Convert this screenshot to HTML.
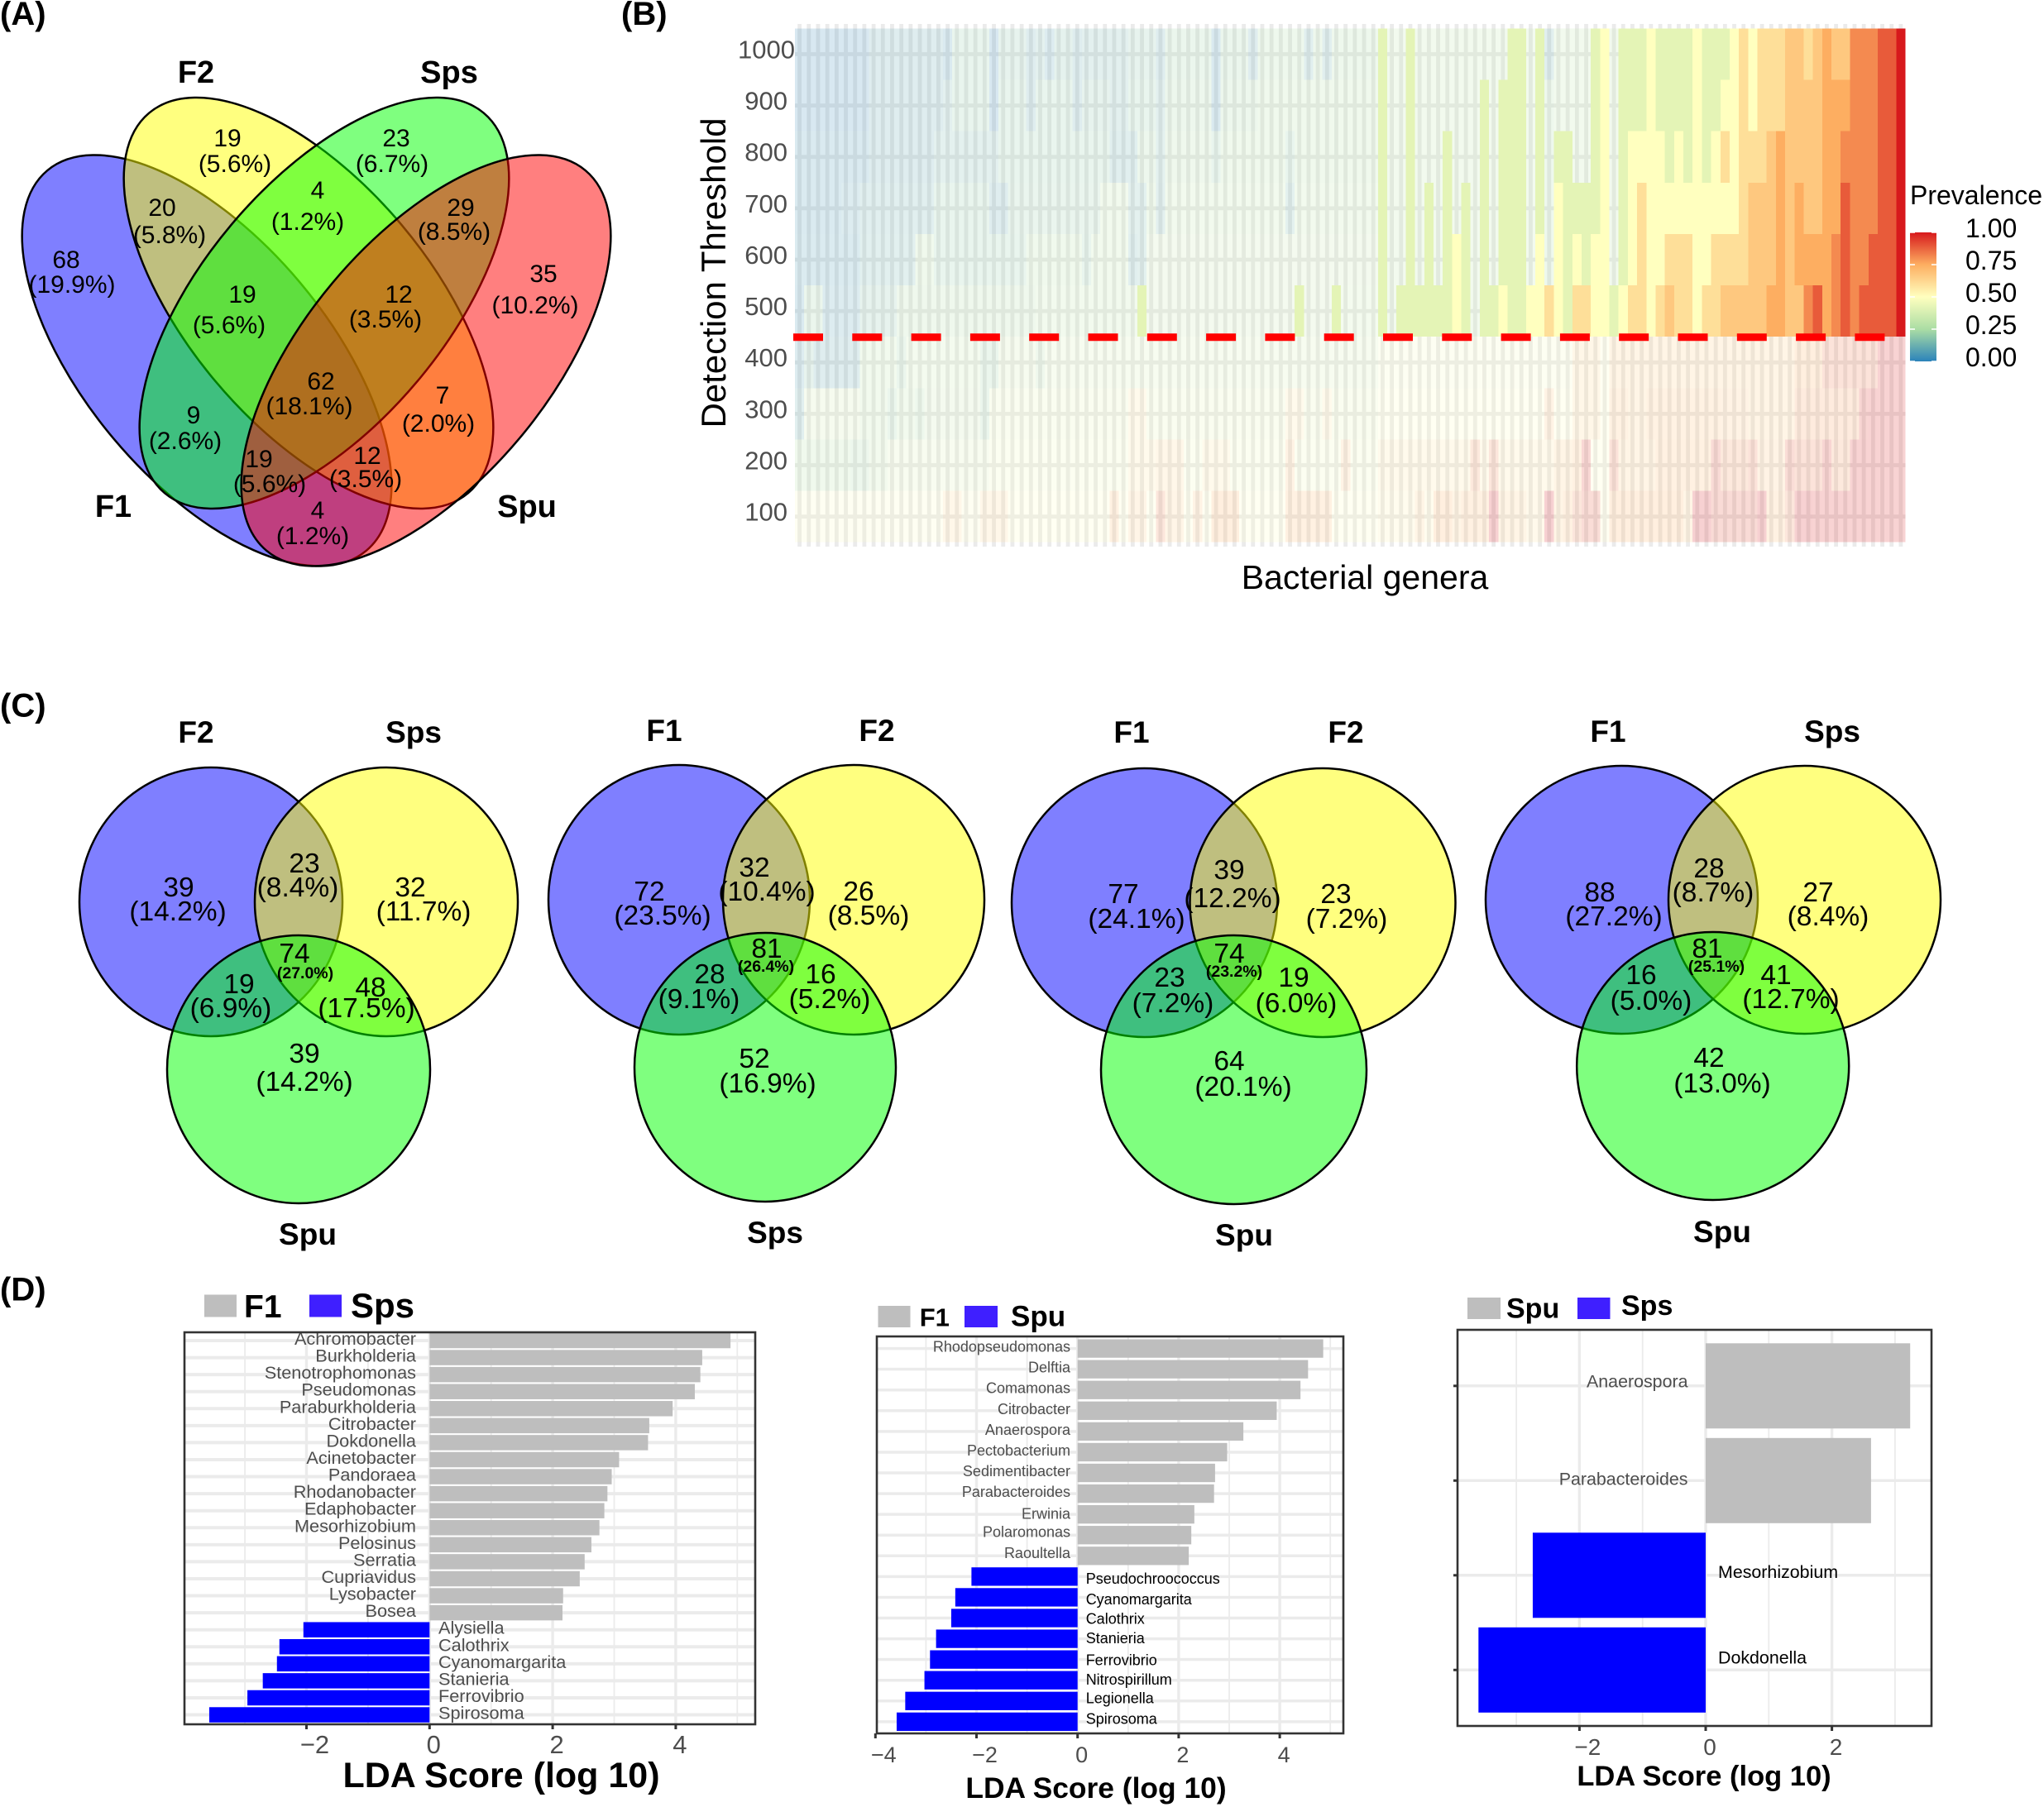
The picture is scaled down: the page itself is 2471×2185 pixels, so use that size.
<!DOCTYPE html>
<html lang="en">
<head>
<meta charset="utf-8">
<title>Microbiome prevalence, Venn and LDA panels</title>
<style>
html,body{margin:0;padding:0;background:#fff;width:2471px;height:2185px;overflow:hidden}
svg{display:block}
text{font-family:"Liberation Sans",Arial,sans-serif;fill:#000}
.m{text-anchor:middle}
.a{font-size:30px}
.c{font-size:33.5px}
.s{font-size:19.5px;font-weight:bold}
.ta{font-size:38px;font-weight:bold}
.tc{font-size:37px;font-weight:bold}
.p{font-size:40px;font-weight:bold}
.v{stroke:#000;stroke-width:2.5;fill-opacity:.5}
</style>
</head>
<body>
<svg id="chart" xmlns="http://www.w3.org/2000/svg" width="2471" height="2185" viewBox="0 0 2471 2185">
<defs>
<linearGradient id="spectral" x1="0" y1="1" x2="0" y2="0">
<stop offset="0" stop-color="#2b83ba"/><stop offset=".25" stop-color="#abdda4"/><stop offset=".5" stop-color="#ffffbf"/><stop offset=".75" stop-color="#fdae61"/><stop offset="1" stop-color="#d7191c"/>
</linearGradient>
</defs>
<rect width="2471" height="2185" fill="#fff"/>

<text x="0" y="30" class="p">(A)</text>
<text x="751" y="30" class="p">(B)</text>
<text x="0" y="866.5" class="p">(C)</text>
<text x="0" y="1572.5" class="p">(D)</text>

<g>
<ellipse class="v" cx="250" cy="436" rx="300" ry="147" transform="rotate(50 250 436)" fill="#00f"/>
<ellipse class="v" cx="373" cy="366.5" rx="300" ry="147" transform="rotate(50 373 366.5)" fill="#ff0"/>
<ellipse class="v" cx="392" cy="366.5" rx="300" ry="147" transform="rotate(-50 392 366.5)" fill="#0f0"/>
<ellipse class="v" cx="515" cy="436" rx="300" ry="147" transform="rotate(-50 515 436)" fill="#f00"/>
<g class="a m">
<text x="80" y="324">68</text><text x="87" y="354">(19.9%)</text>
<text x="275" y="177">19</text><text x="284" y="208">(5.6%)</text>
<text x="479" y="177">23</text><text x="474" y="208">(6.7%)</text>
<text x="196" y="261">20</text><text x="205" y="294">(5.8%)</text>
<text x="384" y="240">4</text><text x="372" y="278">(1.2%)</text>
<text x="557" y="261">29</text><text x="549" y="290">(8.5%)</text>
<text x="657" y="341">35</text><text x="647" y="379">(10.2%)</text>
<text x="293" y="366">19</text><text x="277" y="403">(5.6%)</text>
<text x="482" y="366">12</text><text x="466" y="396">(3.5%)</text>
<text x="234" y="512">9</text><text x="224" y="543">(2.6%)</text>
<text x="388" y="471">62</text><text x="374" y="501">(18.1%)</text>
<text x="535" y="488">7</text><text x="530" y="522">(2.0%)</text>
<text x="313" y="565">19</text><text x="326" y="595">(5.6%)</text>
<text x="444" y="561">12</text><text x="442" y="589">(3.5%)</text>
<text x="384" y="627">4</text><text x="378" y="658">(1.2%)</text>
</g>
<g class="ta m">
<text x="237" y="100">F2</text>
<text x="543" y="100">Sps</text>
<text x="137" y="625">F1</text>
<text x="637" y="625">Spu</text>
</g>
</g>

<g id="heatmap"></g>
<text x="0" y="0" transform="translate(877 330) rotate(-90)" class="m" font-size="42">Detection Threshold</text>
<text x="1650" y="712" class="m" font-size="41">Bacterial genera</text>
<g>
<text x="2309" y="247" font-size="32">Prevalence</text>
<rect x="2309" y="281" width="32" height="156" fill="url(#spectral)"/>
<g stroke="#fff" stroke-width="1.5">
<path d="M2309 281h6M2335 281h6M2309 320h6M2335 320h6M2309 359h6M2335 359h6M2309 398h6M2335 398h6M2309 437h6M2335 437h6" fill="none"/>
</g>
<g font-size="32">
<text x="2376" y="287">1.00</text>
<text x="2376" y="326">0.75</text>
<text x="2376" y="365">0.50</text>
<text x="2376" y="404">0.25</text>
<text x="2376" y="443">0.00</text>
</g>
</g>

<g>
<ellipse class="v" cx="255" cy="1090.5" rx="159" ry="162.5" fill="#00f"/>
<ellipse class="v" cx="467" cy="1090.5" rx="159" ry="162.5" fill="#ff0"/>
<ellipse class="v" cx="361" cy="1293" rx="159" ry="162" fill="#0f0"/>
<g class="c m">
<text x="216" y="1084">39</text><text x="215" y="1113">(14.2%)</text>
<text x="368" y="1055">23</text><text x="360" y="1084">(8.4%)</text>
<text x="496" y="1084">32</text><text x="512" y="1113">(11.7%)</text>
<text x="356" y="1164">74</text>
<text x="289" y="1201">19</text><text x="279" y="1230">(6.9%)</text>
<text x="448" y="1205">48</text><text x="443" y="1230">(17.5%)</text>
<text x="368" y="1285">39</text><text x="368" y="1319">(14.2%)</text>
</g>
<text x="369" y="1183" class="s m">(27.0%)</text>
<g class="tc m">
<text x="237" y="898">F2</text>
<text x="500" y="898">Sps</text>
<text x="372" y="1505">Spu</text>
</g>
</g>

<g>
<ellipse class="v" cx="821" cy="1088" rx="158" ry="163" fill="#00f"/>
<ellipse class="v" cx="1032" cy="1088" rx="158" ry="163" fill="#ff0"/>
<ellipse class="v" cx="925" cy="1290.5" rx="158" ry="162.5" fill="#0f0"/>
<g class="c m">
<text x="785" y="1089">72</text><text x="801" y="1118">(23.5%)</text>
<text x="912" y="1060">32</text><text x="927" y="1089">(10.4%)</text>
<text x="1038" y="1089">26</text><text x="1050" y="1118">(8.5%)</text>
<text x="927" y="1158">81</text>
<text x="858" y="1189">28</text><text x="845" y="1219">(9.1%)</text>
<text x="992" y="1189">16</text><text x="1003" y="1219">(5.2%)</text>
<text x="912" y="1291">52</text><text x="928" y="1321">(16.9%)</text>
</g>
<text x="926" y="1175" class="s m">(26.4%)</text>
<g class="tc m">
<text x="803" y="896">F1</text>
<text x="1060" y="896">F2</text>
<text x="937" y="1503">Sps</text>
</g>
</g>

<g>
<ellipse class="v" cx="1383.5" cy="1091.5" rx="160.5" ry="162.5" fill="#00f"/>
<ellipse class="v" cx="1599" cy="1091.5" rx="160.5" ry="162.5" fill="#ff0"/>
<ellipse class="v" cx="1491.5" cy="1293.5" rx="160.5" ry="162.5" fill="#0f0"/>
<g class="c m">
<text x="1358" y="1092">77</text><text x="1374" y="1122">(24.1%)</text>
<text x="1486" y="1063">39</text><text x="1490" y="1097">(12.2%)</text>
<text x="1615" y="1092">23</text><text x="1628" y="1122">(7.2%)</text>
<text x="1486" y="1164">74</text>
<text x="1414" y="1193">23</text><text x="1418" y="1224">(7.2%)</text>
<text x="1564" y="1193">19</text><text x="1567" y="1224">(6.0%)</text>
<text x="1486" y="1294">64</text><text x="1503" y="1325">(20.1%)</text>
</g>
<text x="1492" y="1181" class="s m">(23.2%)</text>
<g class="tc m">
<text x="1368" y="898">F1</text>
<text x="1627" y="898">F2</text>
<text x="1504" y="1506">Spu</text>
</g>
</g>

<g>
<ellipse class="v" cx="1960.5" cy="1088" rx="164.5" ry="162" fill="#00f"/>
<ellipse class="v" cx="2181.5" cy="1088" rx="164.5" ry="162" fill="#ff0"/>
<ellipse class="v" cx="2070.7" cy="1289" rx="164.5" ry="162" fill="#0f0"/>
<g class="c m">
<text x="1934" y="1090">88</text><text x="1951" y="1119">(27.2%)</text>
<text x="2066" y="1061">28</text><text x="2071" y="1090">(8.7%)</text>
<text x="2198" y="1090">27</text><text x="2210" y="1119">(8.4%)</text>
<text x="2064" y="1158">81</text>
<text x="1984" y="1190">16</text><text x="1996" y="1221">(5.0%)</text>
<text x="2147" y="1190">41</text><text x="2165" y="1219">(12.7%)</text>
<text x="2066" y="1290">42</text><text x="2082" y="1321">(13.0%)</text>
</g>
<text x="2075" y="1175" class="s m">(25.1%)</text>
<g class="tc m">
<text x="1944" y="897">F1</text>
<text x="2215" y="897">Sps</text>
<text x="2082" y="1502">Spu</text>
</g>
</g>

<g id="lda1"></g>
<g id="lda2"></g>
<g id="lda3"></g>
</svg>

<script>
// Heatmap data: prevalence (percent) per genus column, one array per detection threshold.
const thresholds = [1000,900,800,700,600,500,400,300,200,100];
const thresholdTicks = [1000,900,800,700,600,500,400,300,200,100];
const prev1000 = [
3,3,3,3,3,3,3,3,10,10,
10,10,10,10,10,10,5,20,20,20,
20,3,18,18,18,10,15,8,16,16,
10,14,14,14,14,14,18,18,18,10,
22,22,22,22,22,5,22,22,22,10,
25,25,25,25,25,12,25,12,25,25,
25,25,25,42,30,30,42,30,30,30,
30,30,30,30,30,30,30,42,42,30,
42,12,30,30,30,30,42,50,30,42,
42,42,50,42,42,42,42,50,42,42,
42,50,60,50,60,60,60,67,67,60,
67,75,67,67,81,81,81,89,89,100];
const prev900 = [
3,3,3,3,3,3,3,3,10,10,
10,10,10,10,10,10,14,20,20,20,
20,3,20,20,20,10,20,20,20,20,
10,18,18,18,14,14,20,20,20,14,
24,24,24,24,24,5,24,24,24,24,
28,28,28,28,28,28,28,28,28,28,
28,28,28,42,30,30,42,30,30,30,
30,30,30,30,42,30,42,42,42,30,
42,25,30,30,30,30,42,50,30,42,
42,42,50,42,42,42,42,50,42,42,
50,50,60,50,60,60,60,67,67,67,
67,75,75,75,81,81,81,89,89,100];
const prev800 = [
5,5,5,5,5,5,5,5,10,10,
10,10,10,10,10,15,15,15,15,15,
15,14,20,20,20,20,20,20,20,20,
20,20,20,20,12,12,12,24,24,15,
26,26,26,26,26,20,28,28,28,28,
28,28,28,20,28,28,28,28,28,28,
28,28,28,42,30,30,42,30,30,30,
42,30,30,30,42,30,42,42,42,30,
42,25,42,42,30,30,42,50,30,42,
50,50,50,50,42,50,42,50,42,50,
60,50,60,60,60,67,75,67,67,67,
67,75,75,81,81,81,81,89,89,100];
const prev700 = [
5,5,5,5,5,8,8,12,12,12,
12,12,12,12,12,20,20,20,20,20,
20,10,10,21,21,21,21,21,21,21,
21,21,21,31,31,31,15,15,28,14,
30,30,30,30,30,30,30,30,30,30,
30,30,30,15,31,31,31,31,31,31,
31,31,31,42,30,30,42,30,42,30,
42,30,42,30,42,30,42,42,42,30,
42,25,50,42,42,42,42,50,30,42,
50,60,50,50,50,50,50,50,50,50,
50,50,60,67,67,67,75,67,75,67,
67,75,75,89,81,81,81,89,89,100];
const prev600 = [
6,6,6,6,6,6,6,13,13,13,
13,13,13,28,28,20,20,20,20,20,
20,20,20,20,20,28,28,28,28,28,
28,20,31,31,31,31,12,15,33,33,
33,33,33,33,33,33,33,33,33,33,
33,33,33,33,33,33,33,33,33,33,
33,33,33,42,30,30,42,30,42,30,
42,50,42,30,42,30,42,42,42,30,
50,25,50,42,50,42,50,50,30,42,
50,60,50,50,60,60,60,50,50,60,
60,60,60,67,67,67,75,67,75,75,
75,75,81,89,81,81,89,89,89,100];
const prev500 = [
5,22,22,8,8,8,8,18,18,18,
18,26,26,26,26,26,26,26,26,26,
26,26,26,26,26,26,31,31,31,31,
31,31,31,31,31,31,31,42,33,33,
33,33,33,33,33,33,33,33,33,33,
33,33,33,33,42,33,33,33,42,34,
34,34,34,42,30,42,42,42,42,42,
42,50,42,30,42,42,50,42,42,50,
50,60,50,42,60,60,50,50,42,50,
60,60,50,60,67,60,60,50,60,60,
67,67,67,67,67,75,75,67,67,81,
89,75,81,89,81,89,89,89,89,100];
const prev400 = [
8,18,10,10,10,10,10,30,30,30,
30,22,34,34,34,34,34,34,34,34,
22,22,36,36,36,36,26,38,38,38,
38,38,38,38,38,38,38,38,38,38,
38,38,38,38,38,38,38,38,38,38,
38,38,38,38,38,38,38,38,38,38,
38,38,38,47,47,47,47,47,47,47,
47,47,47,47,47,47,47,47,47,47,
47,47,47,47,63,63,63,50,66,66,
66,66,66,66,66,66,66,66,66,66,
66,66,66,66,66,66,66,66,75,75,
75,85,85,85,85,85,85,98,98,98];
const prev300 = [
12,36,36,36,36,36,36,30,30,30,
22,30,30,25,33,33,33,33,33,33,
22,42,42,42,42,42,42,42,42,42,
42,42,42,42,42,42,58,58,42,42,
42,42,42,42,42,42,42,42,42,42,
42,42,42,58,58,42,42,58,42,42,
42,42,42,50,50,50,50,50,50,50,
50,50,50,50,50,50,50,50,50,50,
50,68,50,50,63,63,63,50,70,70,
66,66,70,70,70,70,70,70,70,70,
68,68,68,66,66,66,66,66,78,78,
78,78,78,78,78,97,98,98,98,98];
const prev200 = [
28,28,28,28,28,28,24,24,32,32,
40,40,40,40,40,40,40,40,40,40,
40,46,46,46,46,46,46,46,46,46,
46,46,46,46,46,46,58,58,58,62,
62,62,46,46,58,58,58,46,46,46,
46,46,46,68,46,46,46,46,46,68,
46,46,46,58,58,58,58,58,58,58,
58,58,58,80,58,82,58,58,58,58,
58,58,66,66,72,94,50,50,85,66,
66,66,66,72,72,72,72,72,72,92,
80,80,80,85,68,68,68,90,85,85,
85,97,80,80,98,98,98,98,98,98];
const prev100 = [
48,48,48,48,48,48,48,48,48,48,
48,48,48,48,48,48,62,62,48,48,
62,62,62,50,50,50,50,50,50,50,
50,50,50,50,72,50,65,65,50,82,
65,65,50,68,50,75,75,75,50,50,
50,50,50,72,72,72,72,72,50,50,
50,50,50,55,55,55,55,66,55,75,
75,66,72,72,72,100,66,66,66,60,
60,100,66,72,82,90,90,52,75,75,
75,75,75,75,75,75,66,100,100,92,
92,92,92,92,100,72,72,82,100,100,
98,98,98,98,98,98,98,98,98,98];
const prevalenceRows = [prev1000,prev900,prev800,prev700,prev600,prev500,prev400,prev300,prev200,prev100];

// LDA data
const d1Genera = ["Achromobacter","Burkholderia","Stenotrophomonas","Pseudomonas","Paraburkholderia","Citrobacter","Dokdonella","Acinetobacter","Pandoraea","Rhodanobacter","Edaphobacter","Mesorhizobium","Pelosinus","Serratia","Cupriavidus","Lysobacter","Bosea","Alysiella","Calothrix","Cyanomargarita","Stanieria","Ferrovibrio","Spirosoma"];
const d1Scores = [4.89,4.43,4.40,4.31,3.95,3.57,3.55,3.08,2.96,2.89,2.84,2.76,2.63,2.52,2.44,2.17,2.16,-2.05,-2.44,-2.48,-2.71,-2.96,-3.58];
const d1Ticks = [-2,0,2,4];
const d1Minor = [-3,-1,1,3,5];

const d2Genera = ["Rhodopseudomonas","Delftia","Comamonas","Citrobacter","Anaerospora","Pectobacterium","Sedimentibacter","Parabacteroides","Erwinia","Polaromonas","Raoultella","Pseudochroococcus","Cyanomargarita","Calothrix","Stanieria","Ferrovibrio","Nitrospirillum","Legionella","Spirosoma"];
const d2Scores = [4.86,4.56,4.41,3.94,3.28,2.96,2.72,2.70,2.31,2.25,2.20,-2.10,-2.42,-2.50,-2.80,-2.92,-3.03,-3.41,-3.58];
const d2Ticks = [-4,-2,0,2,4];
const d2Minor = [-3,-1,1,3,5];

const d3Genera = ["Anaerospora","Parabacteroides","Mesorhizobium","Dokdonella"];
const d3Scores = [3.24,2.62,-2.74,-3.60];
const d3Ticks = [-2,0,2];
const d3Minor = [-3,-1,1,3];

const NS = "http://www.w3.org/2000/svg";
function make(parent, tag, attrs, txt){
  const el = document.createElementNS(NS, tag);
  for (const k in attrs) el.setAttribute(k, attrs[k]);
  if (txt !== undefined) el.textContent = txt;
  parent.appendChild(el);
  return el;
}

// Heatmap colour scale
const paletteStops = [[43,131,186],[171,221,164],[255,255,191],[253,174,97],[215,25,28]];
function spectral(p){
  const t = Math.max(0, Math.min(1, p/100))*4;
  const i = Math.min(3, Math.floor(t));
  const f = t-i, a = paletteStops[i], b = paletteStops[i+1];
  return "rgb("+a.map((c,j)=>Math.round(c+(b[j]-c)*f)).join(",")+")";
}

(function drawHeatmap(){
  const g = document.getElementById("heatmap");
  const L = 961, R = 2303.5, T = 34.4, B = 655.7;
  const nCols = prevalenceRows[0].length, nRows = thresholds.length;
  const cw = (R-L)/nCols, rh = (B-T)/nRows;
  const xc = i => L + (i+0.5)*cw;
  const yTop = r => T + r*rh;

  const grid = make(g, "g", {stroke:"#ebebeb"});
  
  
  for (let i=0;i<nCols;i++){
    const vl = make(grid, "line", {x1:xc(i), x2:xc(i), y1:29, y2:661, "stroke-width":4.8});
    
    
  }
  for (let r=0;r<nRows;r++){
    const hl = make(grid, "line", {x1:L, x2:R, y1:yTop(r)+rh/2, y2:yTop(r)+rh/2, "stroke-width":4.8});
    
    
  }

  const tiles = make(g, "g", {"shape-rendering":"crispEdges"});
  
  
  prevalenceRows.forEach((row, r) => {
    row.forEach((v, i) => {
      const solid = thresholds[r] >= 500 && v >= 40;
      const cell = make(tiles, "rect", {x:L+i*cw, y:yTop(r), width:cw, height:rh, fill:spectral(v), "fill-opacity":solid?1:0.2});
      
      
    });
  });

  thresholdTicks.forEach((t) => {
    const r = thresholds.indexOf(t);
    const lab = make(g, "text", {x:t===1000?961:952, y:yTop(r)+rh/2+5, "text-anchor":"end", "font-size":31, style:"fill:#4d4d4d"}, String(t));
    
    
  });

  const cut = make(g, "line", {x1:959, x2:2290, y1:407.8, y2:407.8, stroke:"#f00", "stroke-width":9, "stroke-dasharray":"36 35.3"});
  
  
})();

function drawLda(id, genera, scores, ticks, minor, cfg){
  const g = document.getElementById(id);
  const x = v => cfg.x0 + v*cfg.unit;
  const y = i => cfg.first + i*cfg.step;
  const nudge = cfg.labelNudge || {};

  minor.forEach(v => {
    if (x(v) <= cfg.left || x(v) >= cfg.right) return;
    const m = make(g, "line", {x1:x(v), x2:x(v), y1:cfg.top, y2:cfg.bottom, stroke:"#ebebeb", "stroke-width":1.8});
    
    
  });
  ticks.forEach(v => {
    if (x(v) <= cfg.left || x(v) >= cfg.right) return;
    const m = make(g, "line", {x1:x(v), x2:x(v), y1:cfg.top, y2:cfg.bottom, stroke:"#ebebeb", "stroke-width":3.4});
    
    
  });
  genera.forEach((name, i) => {
    const h = make(g, "line", {x1:cfg.left, x2:cfg.right, y1:y(i), y2:y(i), stroke:"#ebebeb", "stroke-width":cfg.hgrid});
    
    
  });
  genera.forEach((name, i) => {
    const v = scores[i];
    const bar = make(g, "rect", {x:Math.min(x(0),x(v)), y:y(i)-cfg.barH/2, width:Math.abs(x(v)-x(0)), height:cfg.barH, fill:v>=0?"#bebebe":"#0000ff"});
    
    
    const lab = make(g, "text", {
      x:v>=0?cfg.labelPos:cfg.labelNeg, y:y(i)+cfg.labelDy+(nudge[name]||0),
      "text-anchor":v>=0?"end":"start", "font-size":cfg.labelSize,
      style:"fill:"+(v>=0?"#4d4d4d":cfg.negColor)
    }, name);
    
    
  });
  const box = make(g, "rect", {x:cfg.left, y:cfg.top, width:cfg.right-cfg.left, height:cfg.bottom-cfg.top, fill:"none", stroke:"#333", "stroke-width":2.6});
  
  
  ticks.forEach(v => {
    const t = make(g, "line", {x1:x(v), x2:x(v), y1:cfg.bottom, y2:cfg.bottom+6, stroke:"#333", "stroke-width":3});
    
    
    const tl = make(g, "text", {x:x(v)+(v<0?10:5), y:cfg.tickY, "text-anchor":"middle", "font-size":cfg.tickSize, style:"fill:#4d4d4d"}, String(v).replace("-","\u2212"));
    
    
  });
  if (cfg.yTicks){
    genera.forEach((name, i) => {
      const t = make(g, "line", {x1:cfg.left-5, x2:cfg.left, y1:y(i), y2:y(i), stroke:"#333", "stroke-width":3});
      
      
    });
  }
  const title = make(g, "text", {x:cfg.titleX, y:cfg.titleY, "text-anchor":"middle", "font-size":cfg.titleSize, "font-weight":"bold"}, "LDA Score (log 10)");
  
  

  cfg.legend.forEach(e => {
    const sw = make(g, "rect", {x:e.sx, y:e.sy, width:e.sw, height:e.sh, fill:e.fill});
    
    
    const lt = make(g, "text", {x:e.tx, y:e.ty, "font-size":e.size, "font-weight":"bold"}, e.text);
    
    
  });
}

drawLda("lda1", d1Genera, d1Scores, d1Ticks, d1Minor, {
  left:223,right:913,top:1611,bottom:2085,x0:519.3,unit:74.4,first:1621,step:20.57,barH:18.5,hgrid:4,
  labelPos:503,labelNeg:530,labelDy:5,labelSize:21.7,negColor:"#4d4d4d",tickY:2120,tickSize:31,
  titleX:606,titleY:2161,titleSize:43,
  legend:[
    {sx:247,sy:1565.5,sw:39,sh:27,fill:"#bebebe",tx:295,ty:1593,size:39,text:"F1"},
    {sx:374,sy:1565.5,sw:39,sh:27,fill:"#3f1fff",tx:424,ty:1593,size:42,text:"Sps"}
  ]
});
drawLda("lda2", d2Genera, d2Scores, d2Ticks, d2Minor, {
  left:1060,right:1624,top:1616,bottom:2096,x0:1302.7,unit:61.1,first:1630.6,step:25.07,barH:22.3,hgrid:3.5,
  labelPos:1294,labelNeg:1312.7,labelDy:5.5,labelSize:18,negColor:"#000",tickY:2131,tickSize:27,
  titleX:1325,titleY:2174,titleSize:35.4,
  labelNudge:{Rhodopseudomonas:-1.5,Delftia:-1.5,Comamonas:-1.5,Citrobacter:-1.5,Anaerospora:-1.5,Pectobacterium:-1.5,Sedimentibacter:-1.5,Parabacteroides:-1.5,Polaromonas:-3,Raoultella:-3,Pseudochroococcus:3,Cyanomargarita:3,Calothrix:1.5,Ferrovibrio:1.5,Legionella:-3,Spirosoma:-3},
  legend:[
    {sx:1061.5,sy:1579,sw:39,sh:26,fill:"#bebebe",tx:1111.7,ty:1603.5,size:31,text:"F1"},
    {sx:1166,sy:1579,sw:40,sh:26,fill:"#3f1fff",tx:1222,ty:1603.5,size:35,text:"Spu"}
  ]
});
drawLda("lda3", d3Genera, d3Scores, d3Ticks, d3Minor, {
  left:1762,right:2335,top:1608,bottom:2087,x0:2062,unit:76.3,first:1675.8,step:114.5,barH:103,hgrid:3.5,yTicks:true,
  labelPos:2040.5,labelNeg:2077,labelDy:3,labelSize:21.4,negColor:"#000",tickY:2122,tickSize:28,
  titleX:2060,titleY:2159,titleSize:34.5,
  labelNudge:{Anaerospora:-1.5,Parabacteroides:2,Dokdonella:-11},
  legend:[
    {sx:1774,sy:1569,sw:40,sh:26,fill:"#bebebe",tx:1821,ty:1593.5,size:34,text:"Spu"},
    {sx:1907,sy:1569,sw:39.5,sh:26,fill:"#3f1fff",tx:1960,ty:1590,size:34,text:"Sps"}
  ]
});
</script>
</body>
</html>
